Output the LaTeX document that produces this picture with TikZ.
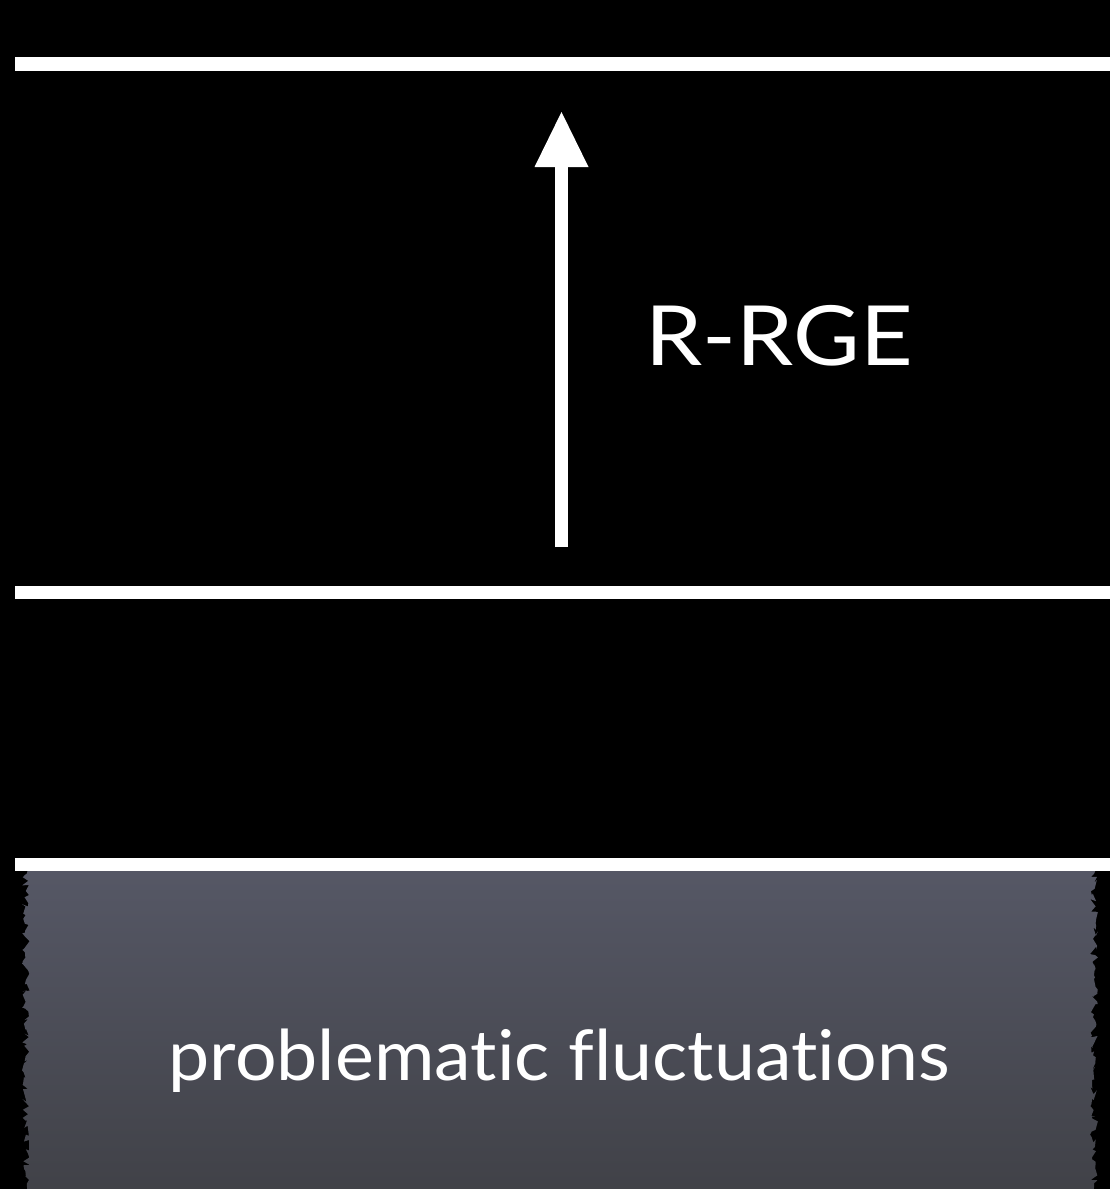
\documentclass[tikz,border=0pt]{standalone}
\usepackage{fontspec}
\usepackage{graphicx}
\setmainfont[Ligatures=NoCommon]{Lato}
\usetikzlibrary{decorations.pathmorphing}
\definecolor{boxtop}{RGB}{86,88,102}
\definecolor{boxbot}{RGB}{64,65,71}
\tikzset{
  rule/.style={white, line width=13.5pt},
  upline/.style={white, line width=13pt},
  lbl/.style={text=white, inner sep=0pt, anchor=base},
}
\begin{document}
\begin{tikzpicture}[x=1pt,y=-1pt]
\fill[black] (0,0) rectangle (1110,1189);
\useasboundingbox (0,0) rectangle (1110,1189);
% gray region with rough edges
\shade[top color=boxtop, bottom color=boxbot, decorate,
  decoration={random steps, segment length=3pt, amplitude=4pt}]
  (26,866) -- (1094,866) -- (1094,1195) -- (26,1195) -- cycle;
% rules
\coordinate (t1) at (15,64);
\coordinate (t2) at (1110,64);
\coordinate (m1) at (15,592.5);
\coordinate (m2) at (1110,592.5);
\coordinate (b1) at (15,864.5);
\coordinate (b2) at (1110,864.5);
\draw[rule] (t1) -- (t2);
\draw[rule] (m1) -- (m2);
\draw[rule] (b1) -- (b2);
% arrow
\coordinate (a0) at (561.5,547);
\coordinate (a1) at (561.5,166);
\coordinate (tip) at (561.5,112);
\draw[upline] (a0) -- (a1);
\fill[white] (tip) -- (588.5,167) -- (534.5,167) -- cycle;
\node[lbl, font=\fontsize{83}{100}\selectfont] (rrge) at (779,365) {\scalebox{1.10}[1]{R-RGE}};
\node[lbl, font=\fontsize{70}{84}\selectfont] (pf) at (559,1080) {\scalebox{1.05}[1]{problematic fluctuations}};
\end{tikzpicture}
\end{document}
